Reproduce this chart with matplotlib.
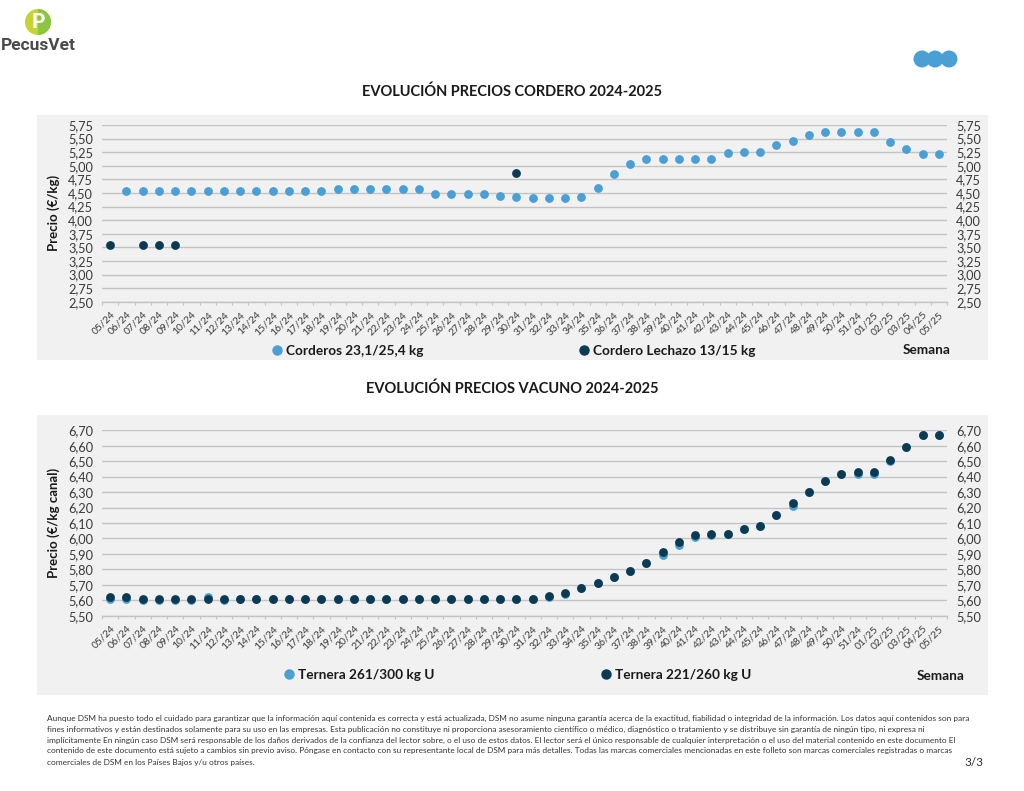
import matplotlib
matplotlib.use("Agg")
import matplotlib.pyplot as plt
from matplotlib.patches import Rectangle, Circle
from matplotlib.lines import Line2D
from matplotlib.ticker import FixedLocator, FuncFormatter, MultipleLocator
import numpy as np

nan = np.nan

weeks = ["05/24", "06/24", "07/24", "08/24", "09/24", "10/24", "11/24", "12/24", "13/24",
         "14/24", "15/24", "16/24", "17/24", "18/24", "19/24", "20/24", "21/24", "22/24",
         "23/24", "24/24", "25/24", "26/24", "27/24", "28/24", "29/24", "30/24", "31/24",
         "32/24", "33/24", "34/24", "35/24", "36/24", "37/24", "38/24", "39/24", "40/24",
         "41/24", "42/24", "43/24", "44/24", "45/24", "46/24", "47/24", "48/24", "49/24",
         "50/24", "51/24", "01/25", "02/25", "03/25", "04/25", "05/25"]

corderos = [nan,
            4.54, 4.54, 4.54, 4.54, 4.54, 4.54, 4.54, 4.54, 4.54, 4.54, 4.54, 4.54, 4.54,
            4.58, 4.58, 4.58, 4.58, 4.58, 4.58,
            4.49, 4.49, 4.49, 4.49,
            4.45, 4.42, 4.40, 4.40, 4.40, 4.42,
            4.60, 4.84, 5.04, 5.13, 5.13, 5.13, 5.12, 5.12, 5.23, 5.26, 5.26, 5.38, 5.46,
            5.56, 5.63, 5.63, 5.63,
            5.63, 5.43, 5.31, 5.22, 5.22]

lechazo = [3.55, nan, 3.55, 3.55, 3.55, nan, nan, nan, nan, nan, nan, nan, nan, nan,
           nan, nan, nan, nan, nan, nan, nan, nan, nan, nan, nan, 4.86, nan, nan, nan,
           nan, nan, nan, nan, nan, nan, nan, nan, nan, nan, nan, nan, nan, nan, nan,
           nan, nan, nan, nan, nan, nan, nan, nan]

ternera_261 = [5.61, 5.61, 5.60, 5.60, 5.60, 5.60, 5.62, 5.60,
               5.61, 5.61, 5.61, 5.61, 5.61, 5.61, 5.61, 5.61, 5.61, 5.61, 5.61, 5.61,
               5.61, 5.61, 5.61, 5.61, 5.61, 5.61, 5.61,
               5.62, 5.64, 5.68, 5.71, 5.75, 5.79, 5.84, 5.89, 5.96, 6.01, 6.02, 6.03,
               6.06, 6.08, 6.15, 6.21, 6.30, 6.37, 6.42, 6.42,
               6.42, 6.50, 6.59, 6.67, 6.67]

ternera_221 = [5.62, 5.62,
               5.61, 5.61, 5.61, 5.61, 5.61, 5.61, 5.61, 5.61, 5.61, 5.61, 5.61, 5.61,
               5.61, 5.61, 5.61, 5.61, 5.61, 5.61, 5.61, 5.61, 5.61, 5.61, 5.61, 5.61, 5.61,
               5.63, 5.65, 5.68, 5.71, 5.75, 5.79, 5.84, 5.91, 5.98, 6.02, 6.03, 6.03,
               6.06, 6.08, 6.15, 6.23, 6.30, 6.37, 6.42, 6.43,
               6.43, 6.51, 6.59, 6.67, 6.67]

footer_lines = [
    "Aunque DSM ha puesto todo el cuidado para garantizar que la información aquí contenida es correcta y está actualizada, DSM no asume ninguna garantía acerca de la exactitud, fiabilidad o integridad de la información. Los datos aquí contenidos son para",
    "fines informativos y están destinados solamente para su uso en las empresas. Esta publicación no constituye ni proporciona asesoramiento científico o médico, diagnóstico o tratamiento y se distribuye sin garantía de ningún tipo, ni expresa ni",
    "implícitamente En ningún caso DSM será responsable de los daños derivados de la confianza del lector sobre, o el uso de estos datos. El lector será el único responsable de cualquier interpretación o el uso del material contenido en este documento El",
    "contenido de este documento está sujeto a cambios sin previo aviso. Póngase en contacto con su representante local de DSM para más detalles. Todas las marcas comerciales mencionadas en este folleto son marcas comerciales registradas o marcas",
    "comerciales de DSM en los Países Bajos y/u otros países.",
]

LIGHT = "#4a9fd5"
DARK = "#0c3a52"
GRID = "#c4c4c4"
TXT = "#3a3a3a"
PANEL = "#f1f1f1"

plt.rcParams['font.family'] = ['Lato', 'DejaVu Sans']

W, H = 1024, 791
fig = plt.figure(figsize=(W / 100, H / 100), dpi=100)

# decoration layer in pixel coordinates
bg = fig.add_axes([0, 0, 1, 1], zorder=0)
bg.set_xlim(0, W)
bg.set_ylim(H, 0)
bg.axis("off")

bg.add_patch(Rectangle((37, 115), 951, 245, facecolor=PANEL, edgecolor="none"))
bg.add_patch(Rectangle((37, 415), 951, 280, facecolor=PANEL, edgecolor="none"))

# logo
logo = Circle((38, 22), 13, facecolor="#c5d335", edgecolor="none")
bg.add_patch(logo)
half = Rectangle((38, 8), 14, 28, facecolor="#8cc540", edgecolor="none")
bg.add_patch(half)
half.set_clip_path(logo)
bg.text(38.5, 22.5, "P", ha="center", va="center", color="white", fontsize=15,
        fontweight="bold", family=["Liberation Sans Narrow", "Roboto", "DejaVu Sans"])
bg.text(38.5, 46, "PecusVet", ha="center", va="center", color="#4a4a4a", fontsize=12.5,
        fontweight="bold", family=["Liberation Sans Narrow", "Roboto", "DejaVu Sans"])

for cx in (922, 935, 949):
    bg.add_patch(Circle((cx, 59), 8.5, facecolor="#4a9fd5", edgecolor="none"))

bg.text(512, 92, "EVOLUCIÓN PRECIOS CORDERO 2024-2025", ha="center", va="center",
        fontsize=10.5, fontweight="bold", color="#1a1a1a")
bg.text(512, 389, "EVOLUCIÓN PRECIOS VACUNO 2024-2025", ha="center", va="center",
        fontsize=10.5, fontweight="bold", color="#1a1a1a")

for i, line in enumerate(footer_lines):
    bg.text(47, 718 + 11 * i, line, ha="left", va="center", fontsize=5.95, color="#333333")
bg.text(983, 763, "3/3", ha="right", va="center", fontsize=8.5, color="#333333")


def px_axes(left, top, right, bottom):
    return fig.add_axes([left / W, 1 - bottom / H, (right - left) / W, (bottom - top) / H],
                        zorder=2)


x = np.arange(len(weeks))
comma = FuncFormatter(lambda v, p: f"{v:.2f}".replace(".", ","))


def style(ax, ylo, yhi, step, ylabel):
    ax.set_facecolor("none")
    ax.set_xlim(-0.5, len(weeks) - 0.5)
    ax.set_ylim(ylo, yhi)
    ax.yaxis.set_major_locator(MultipleLocator(step))
    ax.yaxis.set_major_formatter(comma)
    ax.grid(axis="y", color=GRID, linewidth=1.0)
    ax.set_axisbelow(True)
    for s in ("top", "left", "right"):
        ax.spines[s].set_visible(False)
    ax.spines["bottom"].set_color(GRID)
    ax.spines["bottom"].set_linewidth(1.0)
    ax.tick_params(axis="y", left=False, right=False, labelleft=True, labelright=True,
                   labelsize=9.2, labelcolor=TXT, pad=3)
    ax.set_xticks(x)
    ax.set_xticklabels(weeks, rotation=45, ha="right", rotation_mode="anchor")
    ax.xaxis.set_minor_locator(FixedLocator(np.arange(-0.5, len(weeks), 0.5)))
    ax.tick_params(axis="x", which="major", length=0, labelsize=7.5, labelcolor=TXT, pad=6)
    ax.tick_params(axis="x", which="minor", length=2.5, color=GRID, width=0.8)
    ax.set_ylabel(ylabel, fontsize=9.5, fontweight="bold", color="#1a1a1a", labelpad=6)


# top chart
ax1 = px_axes(102, 125, 947, 301.7)
style(ax1, 2.50, 5.75, 0.25, "Precio (€/kg)")
ax1.scatter(x, corderos, s=40, color=LIGHT, zorder=3, linewidths=0)
ax1.scatter(x, lechazo, s=40, color=DARK, zorder=4, linewidths=0)

# bottom chart
ax2 = px_axes(102, 430.3, 947, 615.7)
style(ax2, 5.50, 6.70, 0.10, "Precio (€/kg canal)")
ax2.scatter(x, ternera_261, s=40, color=LIGHT, zorder=3, linewidths=0)
ax2.scatter(x, ternera_221, s=40, color=DARK, zorder=4, linewidths=0)


def legend_entry(label, color, px, py):
    h = Line2D([], [], marker="o", linestyle="none", markersize=6.5, color=color)
    leg = fig.legend(handles=[h], labels=[label], loc="center left",
                     bbox_to_anchor=(px / W, 1 - py / H), frameon=False,
                     handletextpad=0.15, handlelength=1.0, borderpad=0, borderaxespad=0,
                     prop={"weight": "bold", "size": 9.8})
    for t in leg.get_texts():
        t.set_color("#1a1a1a")


legend_entry("Corderos 23,1/25,4 kg", LIGHT, 270, 351)
legend_entry("Cordero Lechazo 13/15 kg", DARK, 577, 351)
legend_entry("Ternera 261/300 kg U", LIGHT, 282, 675)
legend_entry("Ternera 221/260 kg U", DARK, 599, 675)
fig.text(951 / W, 1 - 350 / H, "Semana", ha="right", va="center", fontsize=9.8,
         fontweight="bold", color="#1a1a1a")
fig.text(965 / W, 1 - 676 / H, "Semana", ha="right", va="center", fontsize=9.8,
         fontweight="bold", color="#1a1a1a")

fig.savefig("out.png", dpi=100)
